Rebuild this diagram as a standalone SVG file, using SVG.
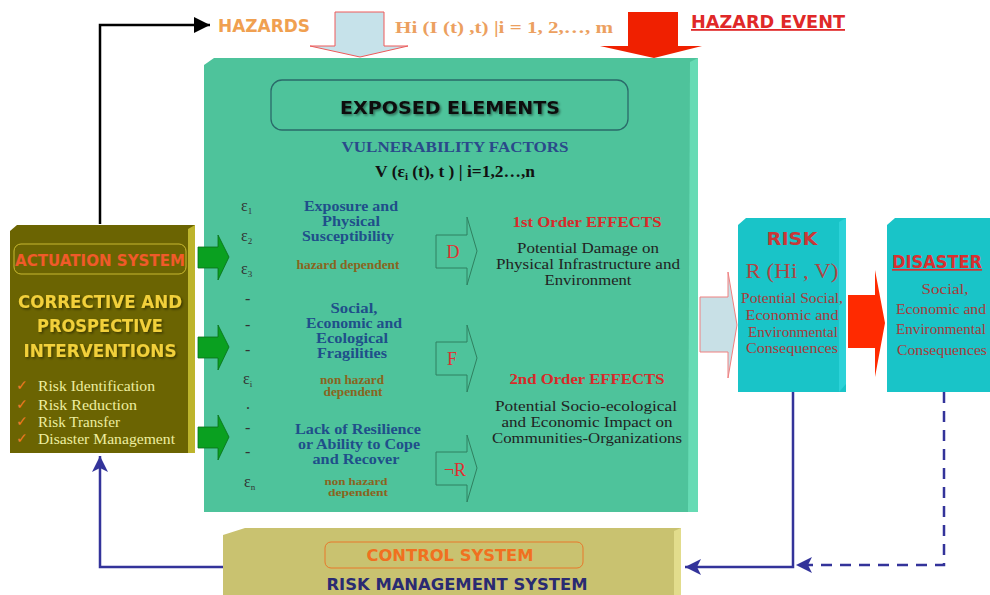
<svg xmlns="http://www.w3.org/2000/svg" width="990" height="595" viewBox="0 0 990 595">
<defs>
<style>
.sans{font-family:"DejaVu Sans","Liberation Sans",sans-serif;font-weight:bold}
.serif{font-family:"Liberation Serif","DejaVu Serif",serif}
.b{font-weight:bold}
.mid{text-anchor:middle}
.eps{font-family:"Liberation Serif",serif;font-size:16px;fill:#333}
.blue{font-family:"Liberation Serif",serif;font-weight:bold;font-size:15px;fill:#1f4f8a;text-anchor:middle}
.dep{font-family:"Liberation Serif",serif;font-weight:bold;font-size:11.5px;fill:#8a6420;text-anchor:middle}
.dep2{font-family:"Liberation Serif",serif;font-weight:bold;font-size:9.5px;fill:#8a6420;text-anchor:middle}
.eff{font-family:"Liberation Serif",serif;font-weight:bold;font-size:15px;fill:#d82a2a;text-anchor:middle}
.desc{font-family:"Liberation Serif",serif;font-size:15.5px;fill:#222;text-anchor:middle}
.rdesc{font-family:"Liberation Serif",serif;font-size:14.5px;fill:#a83a3a;text-anchor:middle}
.item{font-family:"Liberation Serif",serif;font-size:15px;fill:#eeeea0}
.chk{font-family:"DejaVu Sans",sans-serif;font-size:14px;fill:#f07a2a}
.outarrow{fill:none;stroke:#2f8060;stroke-width:1}
.garrow{fill:#0aa020;stroke:#087018;stroke-width:0.8}
.conn{fill:none;stroke-width:2.5}
.letter{font-family:"Liberation Serif",serif;font-size:18px;fill:#e03030;text-anchor:middle}
</style>
<filter id="sh" x="-10%" y="-30%" width="120%" height="160%">
<feDropShadow dx="1.5" dy="1.5" stdDeviation="0.8" flood-color="#000" flood-opacity="0.45"/>
</filter>
<marker id="ak" markerUnits="userSpaceOnUse" markerWidth="18" markerHeight="16" refX="16" refY="8" orient="auto">
<path d="M0,0 L16,8 L0,16 Z" fill="#000"/>
</marker>
<marker id="ab" markerUnits="userSpaceOnUse" markerWidth="18" markerHeight="16" refX="16" refY="8" orient="auto">
<path d="M0,0 L16,8 L0,16 L4,8 Z" fill="#33339a"/>
</marker>
</defs>
<rect width="990" height="595" fill="#fff"/>

<g id="connectors">
<path class="conn" d="M100,224 V25 H210" stroke="#000" marker-end="url(#ak)"/>
<path class="conn" d="M224,567 H100 V456" stroke="#33339a" marker-end="url(#ab)"/>
<path class="conn" d="M793,392 V567 H685" stroke="#33339a" marker-end="url(#ab)"/>
<path class="conn" d="M944,392 V565 H796" stroke="#33339a" stroke-dasharray="11,8" marker-end="url(#ab)"/>
</g>

<g id="hazards">
<text class="sans" x="218" y="32" font-size="18" fill="#f0a050" textLength="92" lengthAdjust="spacingAndGlyphs">HAZARDS</text>
<path d="M335,12 H384 V46 H408 L360,57 L310,46 H335 Z" fill="#c6e2ea" stroke="#ee5a5a" stroke-width="1"/>
<text class="serif b" x="395" y="33" font-size="17" fill="#eca060" textLength="218" lengthAdjust="spacingAndGlyphs">Hi (I (t) ,t)  |i = 1, 2,…, m</text>
</g>

<g id="hazard-event">
<path d="M628,12 H678 V46 H702 L654,58 L600,46 H628 Z" fill="#f02000"/>
<text class="sans" x="691" y="28" font-size="18" fill="#e02828" text-decoration="underline" textLength="154" lengthAdjust="spacingAndGlyphs">HAZARD EVENT</text>
</g>

<g id="exposed-elements">
<path d="M204,65 L214,58 L698,58 L698,512 L204,512 Z" fill="#4ec39b"/>
<path d="M690,62 L698,58 L698,512 L688,512 Z" fill="#66dbb4"/>
<rect x="271" y="80" width="357" height="50" rx="11" fill="#4ec39b" stroke="#2a6a6a" stroke-width="1.3"/>
<text class="sans mid" x="450" y="114" font-size="18" fill="#111" filter="url(#sh)" textLength="220" lengthAdjust="spacingAndGlyphs">EXPOSED ELEMENTS</text>
<text class="serif b mid" x="455" y="152" font-size="15" fill="#2a4a8a" textLength="227" lengthAdjust="spacingAndGlyphs">VULNERABILITY  FACTORS</text>
<text class="serif b" x="375" y="177" font-size="16" fill="#111" textLength="160" lengthAdjust="spacingAndGlyphs">V (ε<tspan font-size="10" dy="3">i</tspan><tspan dy="-3"> (t), t ) | i=1,2…,n</tspan></text>

<text class="eps" x="241" y="211">ε<tspan font-size="9" dy="3">1</tspan></text>
<text class="eps" x="241" y="241">ε<tspan font-size="9" dy="3">2</tspan></text>
<text class="eps" x="241" y="274">ε<tspan font-size="9" dy="3">3</tspan></text>
<text class="eps" x="245" y="304">-</text>
<text class="eps" x="245" y="330">-</text>
<text class="eps" x="245" y="355">-</text>
<text class="eps" x="243" y="384">ε<tspan font-size="9" dy="3">i</tspan></text>
<text class="eps" x="246" y="409">.</text>
<text class="eps" x="245" y="433">-</text>
<text class="eps" x="245" y="457">-</text>
<text class="eps" x="244" y="487">ε<tspan font-size="9" dy="3">n</tspan></text>

<text class="blue" x="351" y="211" textLength="94" lengthAdjust="spacingAndGlyphs">Exposure and</text>
<text class="blue" x="351" y="226" textLength="58" lengthAdjust="spacingAndGlyphs">Physical</text>
<text class="blue" x="348" y="241" textLength="92" lengthAdjust="spacingAndGlyphs">Susceptibility</text>
<text class="dep" x="348" y="269" textLength="103" lengthAdjust="spacingAndGlyphs">hazard  dependent</text>

<text class="blue" x="354" y="313" textLength="47" lengthAdjust="spacingAndGlyphs">Social,</text>
<text class="blue" x="354" y="328" textLength="96" lengthAdjust="spacingAndGlyphs">Economic and</text>
<text class="blue" x="352" y="343" textLength="72" lengthAdjust="spacingAndGlyphs">Ecological</text>
<text class="blue" x="352" y="358" textLength="70" lengthAdjust="spacingAndGlyphs">Fragilities</text>
<text class="dep" x="352" y="384" textLength="64" lengthAdjust="spacingAndGlyphs">non  hazard</text>
<text class="dep" x="353" y="396" textLength="59" lengthAdjust="spacingAndGlyphs">dependent</text>

<text class="blue" x="358" y="434" textLength="126" lengthAdjust="spacingAndGlyphs">Lack of Resilience</text>
<text class="blue" x="359" y="449" textLength="122" lengthAdjust="spacingAndGlyphs">or Ability to Cope</text>
<text class="blue" x="356" y="464" textLength="87" lengthAdjust="spacingAndGlyphs">and Recover</text>
<text class="dep2" x="356" y="485" textLength="63" lengthAdjust="spacingAndGlyphs">non  hazard</text>
<text class="dep2" x="358" y="496" textLength="60" lengthAdjust="spacingAndGlyphs">dependent</text>

<path class="outarrow" d="M436,235 H467 V217 L477,251 L467,285 V268 H436 Z"/>
<text class="letter" x="453" y="258">D</text>
<path class="outarrow" d="M436,342 H467 V325 L477,358 L467,392 V375 H436 Z"/>
<text class="letter" x="452" y="365">F</text>
<path class="outarrow" d="M436,452 H467 V435 L477,468 L467,502 V485 H436 Z"/>
<text class="letter" x="455" y="476">¬R</text>

<text class="eff" x="587" y="227" textLength="149" lengthAdjust="spacingAndGlyphs">1st Order EFFECTS</text>
<text class="desc" x="588" y="253" textLength="142" lengthAdjust="spacingAndGlyphs">Potential Damage on</text>
<text class="desc" x="588" y="269" textLength="184" lengthAdjust="spacingAndGlyphs">Physical Infrastructure and</text>
<text class="desc" x="588" y="285" textLength="87" lengthAdjust="spacingAndGlyphs">Environment</text>
<text class="eff" x="587" y="384" textLength="155" lengthAdjust="spacingAndGlyphs">2nd Order EFFECTS</text>
<text class="desc" x="586" y="411" textLength="182" lengthAdjust="spacingAndGlyphs">Potential Socio-ecological</text>
<text class="desc" x="587" y="427" textLength="171" lengthAdjust="spacingAndGlyphs">and Economic Impact on</text>
<text class="desc" x="587" y="443" textLength="190" lengthAdjust="spacingAndGlyphs">Communities-Organizations</text>
</g>

<g id="actuation-system">
<path d="M10,231 L17,225 L195,225 L195,453 L10,453 Z" fill="#6b6402"/>
<path d="M188,229 L195,225 L195,453 L188,453 Z" fill="#bdb42c"/>
<rect x="14" y="244" width="172" height="30" rx="7" fill="none" stroke="#c8b830" stroke-width="1"/>
<text class="sans mid" x="100" y="266" font-size="15" fill="#f05a2a" textLength="170" lengthAdjust="spacingAndGlyphs">ACTUATION SYSTEM</text>
<text class="sans mid" x="100" y="308" font-size="17" fill="#f2d03a" filter="url(#sh)" textLength="164" lengthAdjust="spacingAndGlyphs">CORRECTIVE  AND</text>
<text class="sans mid" x="100" y="332" font-size="17" fill="#f2d03a" filter="url(#sh)" textLength="126" lengthAdjust="spacingAndGlyphs">PROSPECTIVE</text>
<text class="sans mid" x="100" y="357" font-size="17" fill="#f2d03a" filter="url(#sh)" textLength="153" lengthAdjust="spacingAndGlyphs">INTERVENTIONS</text>
<text class="chk" x="16" y="390">✓</text>
<text class="item" x="38" y="391" textLength="117" lengthAdjust="spacingAndGlyphs">Risk Identification</text>
<text class="chk" x="16" y="409">✓</text>
<text class="item" x="38" y="410" textLength="99" lengthAdjust="spacingAndGlyphs">Risk Reduction</text>
<text class="chk" x="16" y="426">✓</text>
<text class="item" x="38" y="427" textLength="82" lengthAdjust="spacingAndGlyphs">Risk Transfer</text>
<text class="chk" x="16" y="443">✓</text>
<text class="item" x="38" y="444" textLength="137" lengthAdjust="spacingAndGlyphs">Disaster Management</text>
<path class="garrow" d="M198,247 H218 V235 L229,257 L218,280 V268 H198 Z"/>
<path class="garrow" d="M198,337 H218 V325 L229,347 L218,370 V358 H198 Z"/>
<path class="garrow" d="M198,427 H218 V415 L229,437 L218,460 V448 H198 Z"/>
</g>

<g id="risk">
<path d="M700,297 H728 V272 L737,325 L728,378 V352 H700 Z" fill="#c8e0e6" stroke="#f08080" stroke-width="1"/>
<path d="M738,225 L746,218 L846,218 L846,392 L738,392 Z" fill="#19c4c8"/>
<path d="M839,222 L846,218 L846,384 L839,392 Z" fill="#2cd2d8"/>
<text class="sans mid" x="792" y="245" font-size="17" fill="#c83838" textLength="51" lengthAdjust="spacingAndGlyphs">RISK</text>
<text class="serif mid" x="792" y="278" font-size="20" fill="#b04444" textLength="93" lengthAdjust="spacingAndGlyphs">R (Hi , V)</text>
<text class="rdesc" x="792" y="303" textLength="102" lengthAdjust="spacingAndGlyphs">Potential Social,</text>
<text class="rdesc" x="792" y="320" textLength="93" lengthAdjust="spacingAndGlyphs">Economic and</text>
<text class="rdesc" x="793" y="337" textLength="90" lengthAdjust="spacingAndGlyphs">Environmental</text>
<text class="rdesc" x="792" y="353" textLength="92" lengthAdjust="spacingAndGlyphs">Consequences</text>
</g>

<g id="disaster">
<path d="M848,295 H875 V270 L885,323 L875,377 V348 H848 Z" fill="#ff2a00"/>
<path d="M887,225 L895,218 L990,218 L990,392 L887,392 Z" fill="#19c4c8"/>
<text class="sans" x="892" y="268" font-size="17" fill="#d83030" text-decoration="underline" textLength="90" lengthAdjust="spacingAndGlyphs">DISASTER</text>
<text class="rdesc" x="945" y="294" textLength="47" lengthAdjust="spacingAndGlyphs">Social,</text>
<text class="rdesc" x="941" y="314" textLength="90" lengthAdjust="spacingAndGlyphs">Economic and</text>
<text class="rdesc" x="941" y="334" textLength="90" lengthAdjust="spacingAndGlyphs">Environmental</text>
<text class="rdesc" x="942" y="355" textLength="90" lengthAdjust="spacingAndGlyphs">Consequences</text>
</g>

<g id="control-system">
<path d="M223,535 L245,528 L681,528 L681,595 L223,595 Z" fill="#c9c270"/>
<path d="M674,531 L681,528 L681,595 L674,595 Z" fill="#e2dc8c"/>
<rect x="325" y="542" width="258" height="26" rx="6" fill="none" stroke="#e8782a" stroke-width="1"/>
<text class="sans mid" x="450" y="561" font-size="15" fill="#f07020" textLength="167" lengthAdjust="spacingAndGlyphs">CONTROL SYSTEM</text>
<text class="sans mid" x="457" y="590" font-size="16" fill="#2a2a72" textLength="261" lengthAdjust="spacingAndGlyphs">RISK MANAGEMENT SYSTEM</text>
</g>
</svg>
